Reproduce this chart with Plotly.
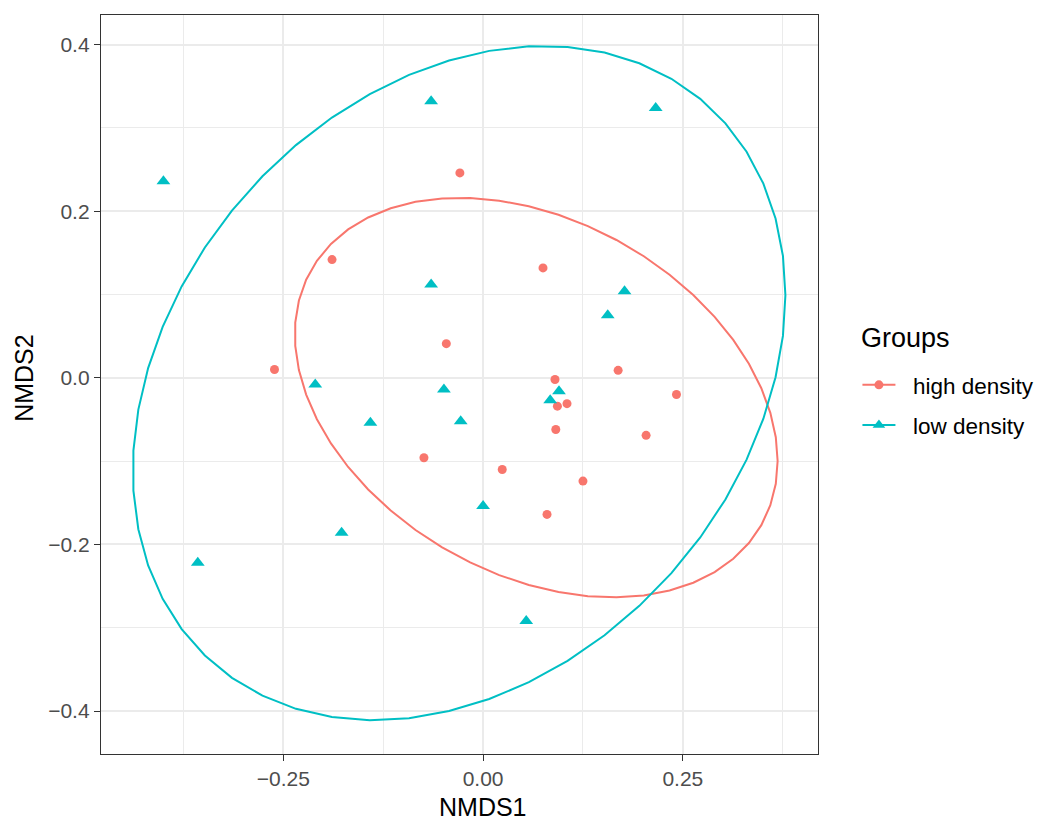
import numpy as np
import plotly.graph_objects as go

# ---- data ----
groups = ["high density", "low density"]
colors = ["#F8766D", "#00BFC4"]
symbols = ["circle", "triangle-up"]

high_x = [-0.029, -0.189, -0.261, -0.046, 0.075, 0.169, 0.090, 0.242,
          0.093, 0.105, 0.091, 0.204, -0.074, 0.024, 0.125, 0.080]
high_y = [0.246, 0.142, 0.010, 0.041, 0.132, 0.009, -0.002, -0.020,
          -0.034, -0.031, -0.062, -0.069, -0.096, -0.110, -0.124, -0.164]

low_x = [-0.400, -0.065, 0.216, -0.065, 0.177, 0.156, -0.210, -0.049,
         0.095, 0.084, -0.141, -0.028, 0.000, -0.177, -0.357, 0.054]
low_y = [0.236, 0.332, 0.324, 0.112, 0.104, 0.075, -0.008, -0.014,
         -0.016, -0.027, -0.054, -0.052, -0.154, -0.186, -0.222, -0.292]

x_ticks = [-0.25, 0.0, 0.25]
x_ticktext = ["\u22120.25", "0.00", "0.25"]
y_ticks = [-0.4, -0.2, 0.0, 0.2, 0.4]
y_ticktext = ["\u22120.4", "\u22120.2", "0.0", "0.2", "0.4"]
x_minor = [-0.375, -0.125, 0.125, 0.375]
y_minor = [-0.3, -0.1, 0.1, 0.3]


def cov_trob(x, nu=5, maxit=25, tol=0.01):
    n, p = x.shape
    wt = np.ones(n)
    loc = x.mean(axis=0)
    w = np.sqrt(wt)
    X = x - loc
    for _ in range(maxit):
        w0 = w
        X = x - loc
        _, d, vt = np.linalg.svd(np.sqrt(w / w.sum())[:, None] * X, full_matrices=False)
        wX = X @ vt.T @ np.diag(1.0 / d)
        Q = (wX ** 2).sum(axis=1)
        w = (wt * (nu + p)) / (nu + Q)
        loc = (w[:, None] * x).sum(axis=0) / w.sum()
        if np.all(np.abs(w - w0) < tol):
            break
    cov = (np.sqrt(w)[:, None] * X).T @ (np.sqrt(w)[:, None] * X) / wt.sum()
    return loc, cov


def ellipse(xs, ys, radius_sq, segments=51):
    data = np.column_stack([xs, ys])
    center, shape = cov_trob(data)
    R = np.linalg.cholesky(shape).T
    radius = np.sqrt(radius_sq)
    ang = np.arange(segments + 1) * 2 * np.pi / segments
    circ = np.column_stack([np.cos(ang), np.sin(ang)])
    e = center + radius * (circ @ R)
    return e[:, 0], e[:, 1]

# 2 * qf(0.95, 2, 15)
RADIUS_SQ = 2 * 3.682320

fig = go.Figure()
series = [(high_x, high_y), (low_x, low_y)]
for (xs, ys), name, col, sym in zip(series, groups, colors, symbols):
    fig.add_trace(go.Scatter(x=xs, y=ys, mode="markers", showlegend=False,
                             marker=dict(color=col, symbol=sym,
                                         size=9 if sym == "circle" else 12)))
for (xs, ys), name, col, sym in zip(series, groups, colors, symbols):
    ex, ey = ellipse(xs, ys, RADIUS_SQ)
    fig.add_trace(go.Scatter(x=ex, y=ey, mode="lines", showlegend=False,
                             line=dict(color=col, width=2)))
for name, col, sym in zip(groups, colors, symbols):
    fig.add_trace(go.Scatter(x=[None], y=[None], mode="lines+markers",
                             name="\u00a0\u00a0" + name,
                             legendgroup=name,
                             line=dict(color=col, width=2),
                             marker=dict(color=col, symbol=sym,
                                         size=9 if sym == "circle" else 11)))

axis_common = dict(showline=True, mirror=True, linecolor="#333333", linewidth=1.3,
                   ticks="outside", ticklen=6, tickwidth=1.3, tickcolor="#333333",
                   showgrid=True, gridcolor="#EBEBEB", gridwidth=1.6,
                   zeroline=False,
                   tickfont=dict(family="Liberation Sans, Arial", size=21, color="#4D4D4D"))

fig.update_layout(
    width=1045, height=816,
    margin=dict(l=93, r=235, t=7, b=70),
    plot_bgcolor="white", paper_bgcolor="white",
    font=dict(family="Liberation Sans, Arial", color="black"),
    xaxis=dict(range=[-0.4781, 0.4191], tickvals=x_ticks, ticktext=x_ticktext,
               minor=dict(tickvals=x_minor, showgrid=True, gridcolor="#EBEBEB",
                          gridwidth=0.9, ticklen=0),
               **axis_common),
    yaxis=dict(range=[-0.4516, 0.4356], tickvals=y_ticks, ticktext=y_ticktext,
               minor=dict(tickvals=y_minor, showgrid=True, gridcolor="#EBEBEB",
                          gridwidth=0.9, ticklen=0),
               **axis_common),
    legend=dict(x=1.055, y=0.472, xanchor="left", yanchor="middle",
                itemwidth=33,
                font=dict(size=22.5, color="black"), tracegroupgap=8,
                bgcolor="rgba(0,0,0,0)"),
    annotations=[
        dict(text="Groups", xref="paper", yref="paper", x=1.0572, y=0.563,
             xanchor="left", yanchor="middle", showarrow=False,
             font=dict(size=27, color="black")),
        dict(text="NMDS1", xref="x", yref="paper", x=0.0, y=0, yshift=-53,
             xanchor="center", yanchor="middle", showarrow=False,
             font=dict(size=25, color="black")),
        dict(text="NMDS2", xref="paper", yref="y", x=0, y=0.0, xshift=-77,
             xanchor="center", yanchor="middle", textangle=-90, showarrow=False,
             font=dict(size=25, color="black")),
    ],
)

fig.write_html("out.html")
